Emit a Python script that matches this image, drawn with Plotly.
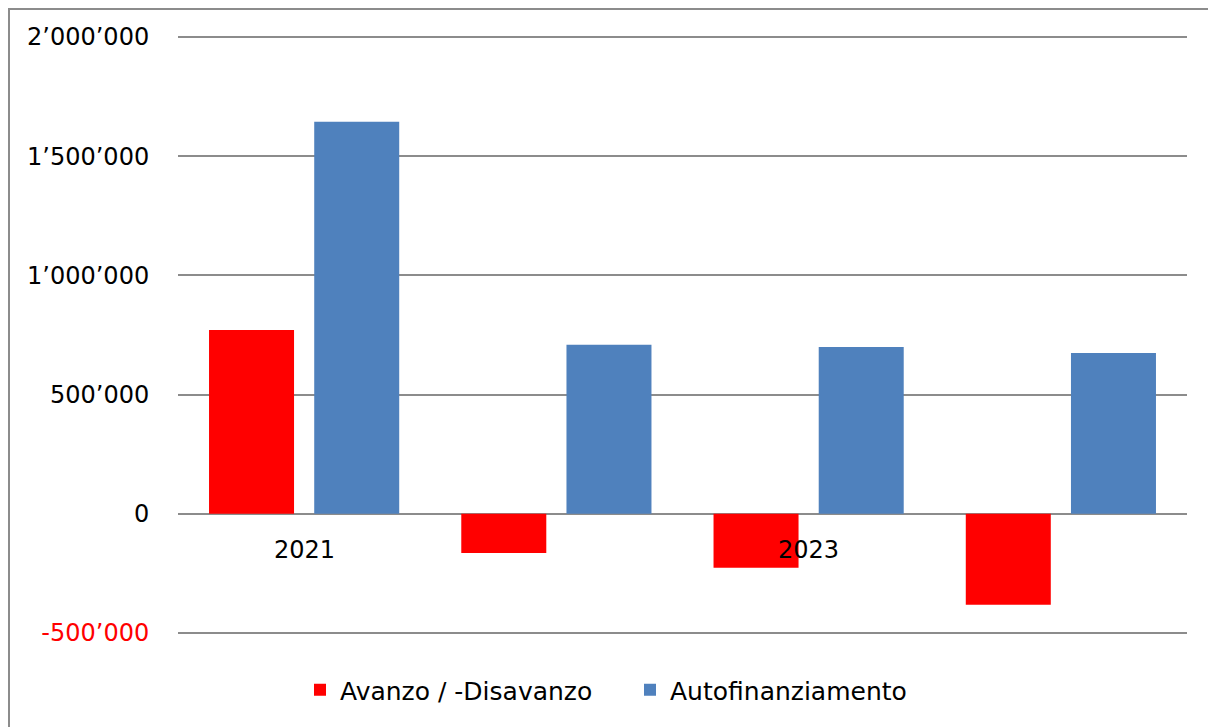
import plotly.graph_objects as go

categories = ["2021", "2022", "2023", "2024"]
shown_labels = ["2021", "2023"]
avanzo = [771000, -164000, -226000, -381000]
autofin = [1644000, 709000, 700000, 675000]
y_tickvals = [-500000, 0, 500000, 1000000, 1500000, 2000000]
y_ticktext = ["<span style='color:#FF0000'>-500’000</span>", "0", "500’000",
              "1’000’000", "1’500’000", "2’000’000"]

FONT = "DejaVu Sans"

fig = go.Figure()
fig.add_trace(go.Bar(x=categories, y=avanzo, name="Avanzo / -Disavanzo",
                     marker=dict(color="#FF0000", line=dict(width=0)),
                     width=0.337, offset=-0.377))
fig.add_trace(go.Bar(x=categories, y=autofin, name="Autofinanziamento",
                     marker=dict(color="#4F81BD", line=dict(width=0)),
                     width=0.337, offset=0.04))

for lab in shown_labels:
    fig.add_annotation(x=categories.index(lab), y=0, xref="x", yref="y", text=lab,
                       showarrow=False, yanchor="top", yshift=-20,
                       font=dict(family=FONT, size=24, color="black"))

W, H = 1208, 719
L, R, T, B = 170, 29, 27, 92
PW, PH = W - L - R, H - T - B

# outer border
fig.add_shape(type="rect", xref="paper", yref="paper",
              x0=(1 - L) / PW, x1=(1206 - L) / PW,
              y0=-0.3, y1=(H - B - 1) / PH,
              line=dict(color="#8C8C8C", width=2), fillcolor="rgba(0,0,0,0)", layer="below")

fig.update_layout(
    width=W, height=H,
    margin=dict(l=L, r=R, t=T, b=B),
    paper_bgcolor="white", plot_bgcolor="white",
    barmode="overlay",
    font=dict(family=FONT, size=24, color="black"),
    showlegend=True,
    legend=dict(orientation="h", x=(300 - 8 - L) / PW, xanchor="left",
                y=(H - B - 682) / PH, yanchor="middle",
                font=dict(family=FONT, size=25, color="black"),
                itemwidth=30, tracegroupgap=0,
                entrywidth=285, entrywidthmode="pixels"),
    xaxis=dict(type="category", showticklabels=False, showgrid=False, zeroline=False,
               showline=False, ticks="", range=[-0.5, 3.5]),
    yaxis=dict(range=[-508400, 2008400], tickvals=y_tickvals, ticktext=y_ticktext,
               showgrid=True, gridcolor="#8C8C8C", gridwidth=2,
               zeroline=True, zerolinecolor="#8C8C8C", zerolinewidth=2,
               showline=False, ticks="outside", ticklen=23, tickcolor="rgba(0,0,0,0)",
               tickfont=dict(family=FONT, size=24, color="black")),
)

fig.write_html("out.html")
